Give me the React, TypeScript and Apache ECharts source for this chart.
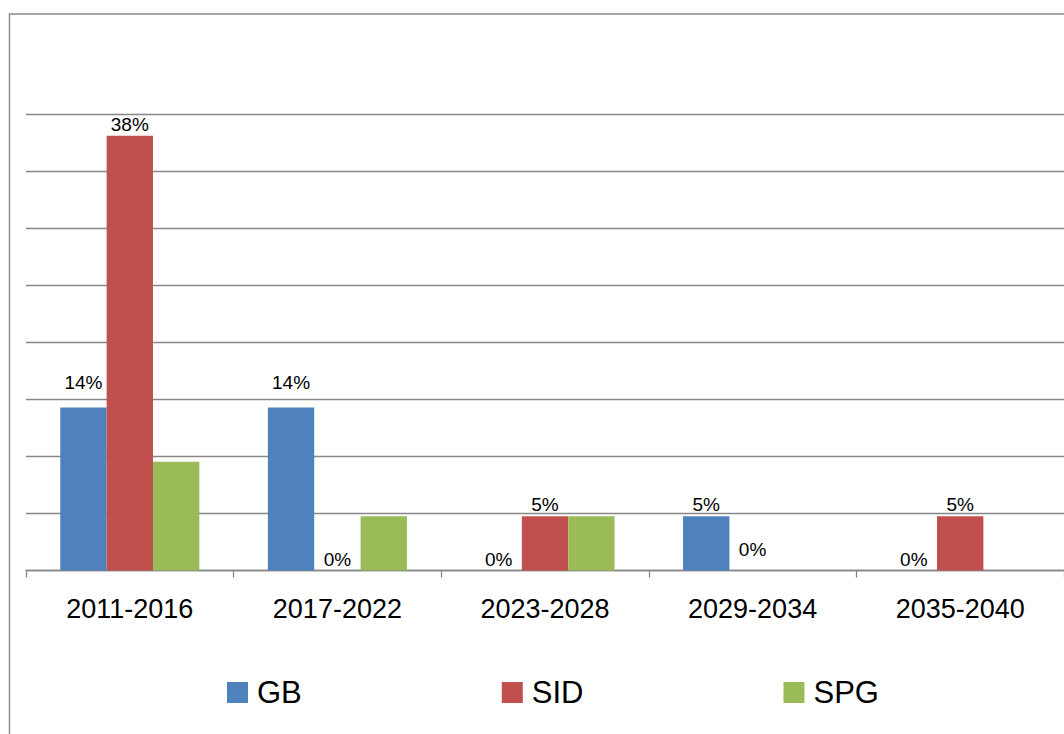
import React, { useEffect, useRef } from "react";
import * as echarts from "echarts";

const categories = ["2011-2016", "2017-2022", "2023-2028", "2029-2034", "2035-2040"];
const gbValues = [14.29, 14.29, 0, 4.76, 0];
const sidValues = [38.1, 0, 4.76, 0, 4.76];
const spgValues = [9.52, 4.76, 4.76, 0, 0];
const seriesNames = ["GB", "SID", "SPG"];
const colors = ["#4F81BD", "#C0504D", "#9BBB59"];

const FONT = "'Liberation Sans', Arial, sans-serif";

export default function App() {
  const ref = useRef<HTMLDivElement>(null);
  useEffect(() => {
    if (!ref.current) return;
    const chart = echarts.init(ref.current, undefined, { renderer: "svg" });
    const labelCfg = {
      show: true,
      position: "top",
      distance: 2,
      fontSize: 19,
      fontFamily: FONT,
      color: "#000",
      formatter: (p: any) => Math.round(p.value) + "%",
    };
    const gbData = gbValues.map((v, i) =>
      i < 2 ? { value: v, label: { offset: [0, -13] } } : v
    );
    const sidData = sidValues.map((v, i) =>
      i === 3 ? { value: v, label: { offset: [0, -10] } } : v
    );
    chart.setOption({
      animation: false,
      backgroundColor: "#fff",
      color: colors,
      textStyle: { fontFamily: FONT },
      graphic: [
        {
          type: "rect",
          shape: { x: 9.5, y: 14, width: 1200, height: 900 },
          style: { fill: "none", stroke: "#8c8c8c", lineWidth: 1.5 },
          silent: true,
        },
      ],
      legend: {
        left: 222,
        top: 672,
        itemWidth: 21,
        itemHeight: 21,
        itemGap: 200,
        icon: "rect",
        data: seriesNames,
        textStyle: { fontSize: 31, fontFamily: FONT, color: "#000", padding: [0, 0, 0, 4] },
      },
      grid: { left: 26, top: 114, width: 1040, height: 456.5 },
      xAxis: {
        type: "category",
        data: categories,
        axisLine: { lineStyle: { color: "#878787", width: 1.3 } },
        axisTick: { show: true, length: 7, lineStyle: { color: "#878787", width: 1.3 } },
        axisLabel: { fontSize: 27, fontFamily: FONT, color: "#000", margin: 25 },
      },
      yAxis: {
        type: "value",
        min: 0,
        max: 40,
        interval: 5,
        axisLabel: { show: false },
        axisLine: { show: false },
        axisTick: { show: false },
        splitLine: { lineStyle: { color: "#878787", width: 1.3 } },
      },
      series: [
        {
          name: "GB",
          type: "bar",
          data: gbData,
          barGap: "0%",
          barCategoryGap: "33%",
          label: labelCfg,
        },
        {
          name: "SID",
          type: "bar",
          data: sidData,
          barGap: "0%",
          barCategoryGap: "33%",
          label: labelCfg,
        },
        {
          name: "SPG",
          type: "bar",
          data: spgValues,
          barGap: "0%",
          barCategoryGap: "33%",
          label: { show: false },
        },
      ],
    });
    return () => chart.dispose();
  }, []);
  return (
    <div
      ref={ref}
      style={{ position: "fixed", left: 0, top: 0, width: 1064, height: 734 }}
    />
  );
}
